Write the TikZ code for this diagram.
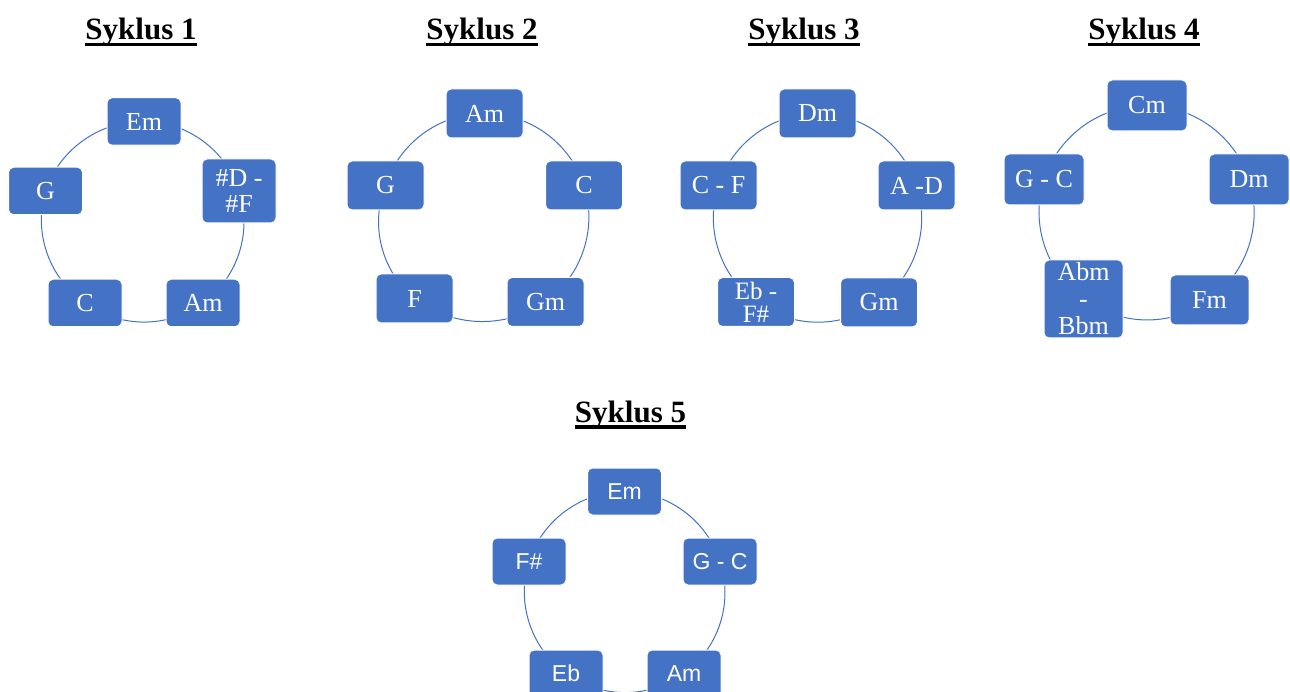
\documentclass[tikz,border=0pt]{standalone}
\usepackage{fontspec}
\setmainfont{Liberation Serif}
\newfontfamily\sansnode{Liberation Sans}
\usetikzlibrary{backgrounds}
\definecolor{boxblue}{RGB}{68,114,196}
\tikzset{
  cbox/.style={rounded corners=5pt, fill=boxblue, draw=white, line width=1pt,
    text=white, inner sep=0pt, align=center, minimum width=#1},
  cbox/.default=74pt,
  serifnode/.style={font=\fontsize{26}{26}\selectfont},
  sansfont/.style={font=\sansnode\fontsize{23}{26}\selectfont},
  title/.style={font=\bfseries\fontsize{31}{31}\selectfont, inner sep=0pt, anchor=base},
  uline/.style={line width=3.5pt},
  conn/.style={draw=boxblue, line width=1pt, bend left=36, looseness=0.94},
}
\begin{document}
\begin{tikzpicture}[x=1pt,y=-1pt]
\useasboundingbox (0,0) rectangle (1290,692);

% titles
\node[title] (t1) at (141,39.5) {Syklus 1};
\node[title] (t2) at (482,39.5) {Syklus 2};
\node[title] (t3) at (804,39.5) {Syklus 3};
\node[title] (t4) at (1144,39.5) {Syklus 4};
\node[title] (t5) at (630.5,422) {Syklus 5};
\foreach \t in {t1,t2,t3,t4,t5}
  \draw[uline] ([yshift=-5pt]\t.base west) -- ([yshift=-5pt]\t.base east);

% cycle 1
\begin{scope}[every node/.style={cbox=74pt, serifnode, minimum height=47.5pt}]
\node (a1) at (144,121.5) {Em};
\node[minimum height=64pt, font=\fontsize{26}{26}\selectfont] (a2) at (239,191) {\#D -\\\#F};
\node (a3) at (203,303) {Am};
\node (a4) at (85,303) {C};
\node (a5) at (45.5,191) {G};
\end{scope}

% cycle 2
\begin{scope}[every node/.style={cbox=77pt, serifnode, minimum height=49pt}]
\node (b1) at (484.5,113.5) {Am};
\node (b2) at (584,185.5) {C};
\node (b3) at (545.5,302) {Gm};
\node (b4) at (414.5,298.5) {F};
\node (b5) at (385.5,185.5) {G};
\end{scope}

% cycle 3
\begin{scope}[every node/.style={cbox=77pt, serifnode, minimum height=49pt}]
\node (c1) at (817.5,113.5) {Dm};
\node (c2) at (916.5,185.5) {A -D};
\node (c3) at (879,302.5) {Gm};
\node[font=\fontsize{25}{23}\selectfont] (c4) at (756,302) {Eb -\\F\#};
\node (c5) at (718.5,185.5) {C - F};
\end{scope}

% cycle 4
\begin{scope}[every node/.style={cbox=80pt, serifnode, minimum height=51pt}]
\node (d1) at (1147,105.5) {Cm};
\node (d2) at (1249,179.5) {Dm};
\node[minimum width=79pt, minimum height=50pt] (d3) at (1209.5,300) {Fm};
\node[minimum width=79pt, minimum height=78pt, font=\fontsize{26}{27}\selectfont] (d4) at (1083.5,299) {Abm\\-\\Bbm};
\node (d5) at (1044,179.5) {G - C};
\end{scope}

% cycle 5
\begin{scope}[every node/.style={cbox=74pt, sansfont, minimum height=47pt}]
\node (e1) at (624.5,491.5) {Em};
\node (e2) at (720,561.5) {G - C};
\node (e3) at (684,673.5) {Am};
\node (e4) at (566,673.5) {Eb};
\node (e5) at (529,561.5) {F\#};
\end{scope}

\begin{scope}[on background layer]
\fill[white] (0,0) rectangle (1290,692);
\foreach \p in {a,b,c,d,e}{
  \draw[conn] (\p1.center) to (\p2.center);
  \draw[conn] (\p2.center) to (\p3.center);
  \draw[conn] (\p3.center) to (\p4.center);
  \draw[conn] (\p4.center) to (\p5.center);
  \draw[conn] (\p5.center) to (\p1.center);
}
\end{scope}
\end{tikzpicture}
\end{document}
